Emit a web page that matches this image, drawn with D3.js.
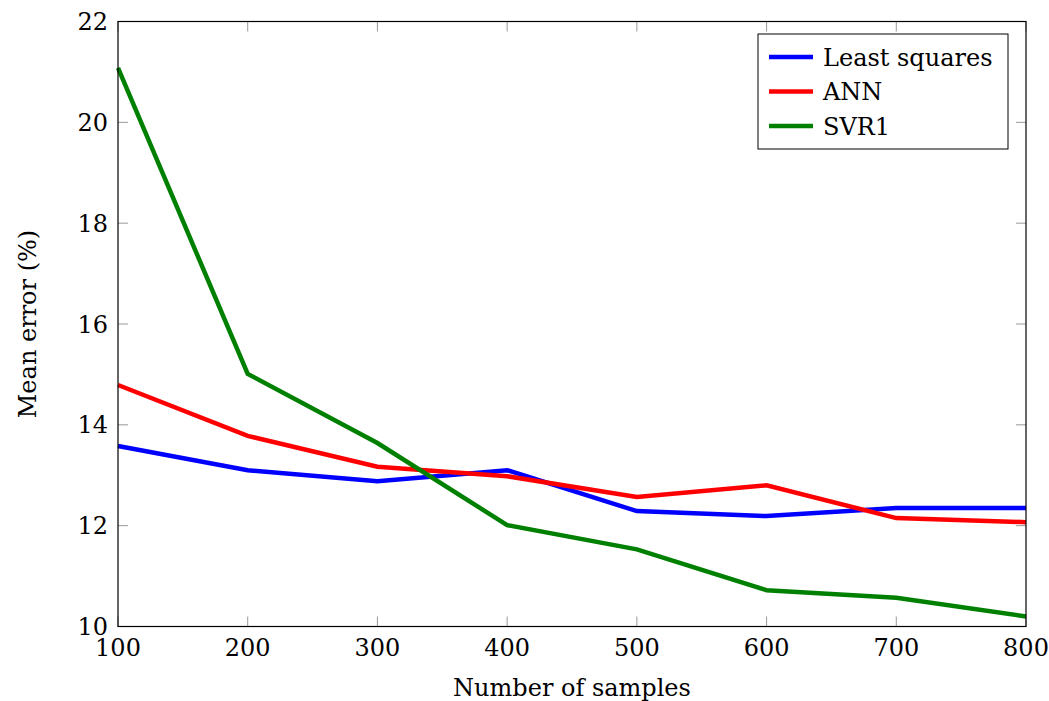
<!DOCTYPE html>
<html>
  <head>
    <meta charset="utf-8" />
    <script src="https://d3js.org/d3.v7.min.js"></script>
    <style>
      body { margin: 0; background: #fff; }
      text { font-family: "DejaVu Serif", serif; fill: #000; }
    </style>
  </head>
  <body>
    <svg id="chart" width="1049" height="701"></svg>
    <script>
      // data
      const samples = [100, 200, 300, 400, 500, 600, 700, 800];
      const leastSquares = [13.58, 13.1, 12.88, 13.1, 12.29, 12.19, 12.35, 12.35];
      const ann = [14.79, 13.78, 13.17, 12.98, 12.57, 12.8, 12.15, 12.07];
      const svr1 = [21.08, 15.01, 13.64, 12.01, 11.53, 10.72, 10.57, 10.2];
      const seriesNames = ["Least squares", "ANN", "SVR1"];
      const seriesColors = ["#0000ff", "#ff0000", "#008000"];
      const xTicks = [100, 200, 300, 400, 500, 600, 700, 800];
      const yTicks = [10, 12, 14, 16, 18, 20, 22];

      const svg = d3.select("#chart");
      const plotLeft = 118, plotRight = 1026, plotTop = 21.5, plotBottom = 626.5;
      const fs = 24;

      const x = d3.scaleLinear().domain([100, 800]).range([plotLeft, plotRight]);
      const y = d3.scaleLinear().domain([10, 22]).range([plotBottom, plotTop]);

      const series = [leastSquares, ann, svr1];

      // inward ticks on all four sides
      const tickLen = 10;
      const g = svg.append("g");
      g.selectAll("line.xb").data(xTicks).join("line").attr("class", "xb")
        .attr("x1", d => x(d)).attr("x2", d => x(d))
        .attr("y1", plotBottom).attr("y2", plotBottom - tickLen);
      g.selectAll("line.xt").data(xTicks).join("line").attr("class", "xt")
        .attr("x1", d => x(d)).attr("x2", d => x(d))
        .attr("y1", plotTop).attr("y2", plotTop + tickLen);
      g.selectAll("line.yl").data(yTicks).join("line").attr("class", "yl")
        .attr("x1", plotLeft).attr("x2", plotLeft + tickLen)
        .attr("y1", d => y(d)).attr("y2", d => y(d));
      g.selectAll("line.yr").data(yTicks).join("line").attr("class", "yr")
        .attr("x1", plotRight).attr("x2", plotRight - tickLen)
        .attr("y1", d => y(d)).attr("y2", d => y(d));
      g.selectAll("line").attr("stroke", "#999").attr("stroke-width", 1);

      // lines
      const line = d3.line().x((d, i) => x(samples[i])).y(d => y(d));
      svg.selectAll("path.series").data(series).join("path")
        .attr("class", "series")
        .attr("d", line)
        .attr("fill", "none")
        .attr("stroke", (d, i) => seriesColors[i])
        .attr("stroke-width", 4.5)
        .attr("stroke-linejoin", "miter");

      // frame
      svg.append("rect")
        .attr("x", plotLeft).attr("y", plotTop)
        .attr("width", plotRight - plotLeft).attr("height", plotBottom - plotTop)
        .attr("fill", "none").attr("stroke", "#000").attr("stroke-width", 1.2);

      // tick labels
      svg.selectAll("text.xl").data(xTicks).join("text")
        .attr("class", "xl")
        .attr("x", d => x(d)).attr("y", plotBottom + 29)
        .attr("text-anchor", "middle")
        .attr("font-size", fs)
        .text(d => d);
      svg.selectAll("text.yl").data(yTicks).join("text")
        .attr("class", "yl")
        .attr("x", plotLeft - 10).attr("y", d => y(d) + 8.5)
        .attr("text-anchor", "end")
        .attr("font-size", fs)
        .text(d => d);

      // axis titles
      svg.append("text")
        .attr("x", 572).attr("y", 696)
        .attr("text-anchor", "middle").attr("font-size", fs)
        .text("Number of samples");
      svg.append("text")
        .attr("transform", `translate(36, ${(plotTop + plotBottom) / 2}) rotate(-90)`)
        .attr("text-anchor", "middle").attr("font-size", fs)
        .text("Mean error (%)");

      // legend
      const lg = svg.append("g").attr("transform", "translate(758, 34)");
      lg.append("rect").attr("width", 250).attr("height", 115)
        .attr("fill", "#fff").attr("stroke", "#000").attr("stroke-width", 1);
      const items = lg.selectAll("g.item").data(seriesNames).join("g")
        .attr("class", "item")
        .attr("transform", (d, i) => `translate(0, ${23 + i * 34.5})`);
      items.append("line")
        .attr("x1", 11).attr("x2", 55).attr("y1", 0).attr("y2", 0)
        .attr("stroke", (d, i) => seriesColors[i]).attr("stroke-width", 4.5);
      items.append("text")
        .attr("x", 65).attr("y", 8.5).attr("font-size", fs)
        .text(d => d);
    </script>
  </body>
</html>
